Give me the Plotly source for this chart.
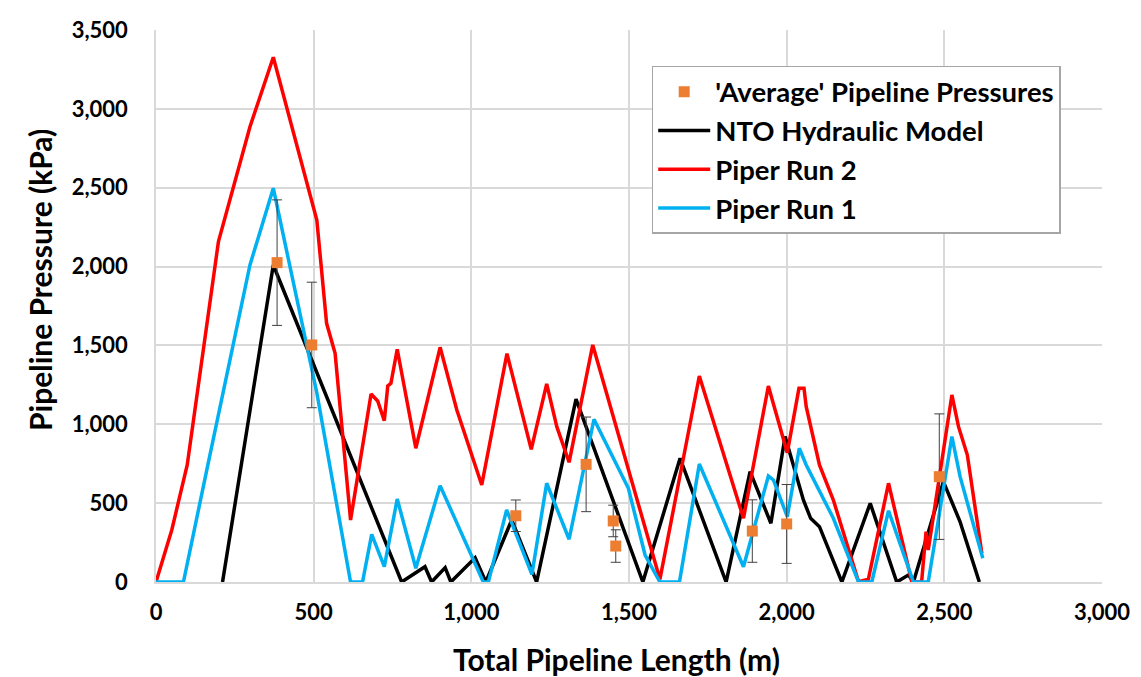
import plotly.graph_objects as go

# NTO Hydraulic Model
nto_x = [211, 372, 779, 853, 874, 917, 935, 1012, 1046, 1128, 1207, 1332, 1544, 1662, 1808,
         1884, 1950, 1995, 2053, 2076, 2104, 2175, 2265, 2349, 2386, 2402, 2497, 2550, 2611]
nto_y = [0, 2010, 0, 97, 0, 91, 0, 154, 0, 393, 0, 1159, 0, 784, 0,
         700, 372, 922, 520, 404, 351, 0, 499, 0, 44, 0, 636, 382, 0]

# Piper Run 2
run2_x = [0, 50, 99, 198, 298, 372, 510, 541, 568, 617, 682, 703, 724, 735, 745, 765, 824, 901,
          954, 1033, 1113, 1190, 1239, 1271, 1310, 1385, 1598, 1723, 1863, 1942, 1956, 2002,
          2039, 2055, 2062, 2104, 2148, 2228, 2259, 2323, 2397, 2428, 2442, 2449, 2524, 2545,
          2573, 2619]
run2_y = [0, 330, 742, 2158, 2887, 3327, 2295, 1640, 1450, 393, 1192, 1148, 1023, 1243, 1260,
          1476, 848, 1488, 1091, 615, 1448, 841, 1256, 985, 759, 1503, 17, 1306, 404, 1243,
          1143, 820, 1228, 1228, 1112, 742, 520, 2, 17, 626, 0, 2, 319, 203, 1186, 985, 805, 182]

# Piper Run 1
run1_x = [0, 87, 160, 298, 372, 510, 617, 655, 684, 702, 724, 765, 824, 901, 1038, 1054, 1112,
          1192, 1239, 1310, 1389, 1498, 1551, 1598, 1660, 1723, 1863, 1942, 1958, 2002, 2040,
          2062, 2106, 2148, 2228, 2270, 2323, 2402, 2449, 2524, 2550, 2622]
run1_y = [0, 0, 700, 2010, 2497, 1200, 0, 0, 302, 203, 97, 526, 87, 611, 0, 0, 457,
          48, 626, 271, 1032, 594, 171, 0, 0, 748, 97, 672, 647, 414, 848,
          742, 573, 404, 0, 0, 452, 0, 0, 922, 668, 150]

# 'Average' Pipeline Pressures with error bars
avg_x = [384, 494, 1141, 1364, 1450, 1458, 1891, 2000, 2484]
avg_y = [2025, 1503, 420, 746, 387, 228, 323, 368, 668]
avg_err = [398, 398, 100, 300, 100, 103, 198, 250, 398]

x_title = "Total Pipeline Length (m)"
y_title = "Pipeline Pressure (kPa)"

FONT = "Lato"

fig = go.Figure()
fig.add_trace(go.Scatter(x=nto_x, y=nto_y, mode="lines", name="NTO Hydraulic Model",
                         line=dict(color="#000000", width=3.5), legendrank=2))
fig.add_trace(go.Scatter(x=run2_x, y=run2_y, mode="lines", name="Piper Run 2",
                         line=dict(color="#FF0000", width=3.5), legendrank=3))
fig.add_trace(go.Scatter(x=run1_x, y=run1_y, mode="lines", name="Piper Run 1",
                         line=dict(color="#00B0F0", width=3.5), legendrank=4))
fig.add_trace(go.Scatter(x=avg_x, y=avg_y, mode="markers", name="'Average' Pipeline Pressures",
                         marker=dict(color="#ED7D31", symbol="square", size=11),
                         error_y=dict(type="data", array=avg_err, visible=True,
                                      color="#404040", thickness=1, width=5),
                         legendrank=1))

fig.update_layout(
    width=1141, height=677,
    margin=dict(l=156, r=39, t=30, b=95),
    paper_bgcolor="white", plot_bgcolor="white",
    font=dict(family=FONT, size=22, color="#000000"),
    showlegend=True,
    legend=dict(x=0.524, y=0.935, xanchor="left", yanchor="top",
                bgcolor="white", bordercolor="#A6A6A6", borderwidth=1.5,
                font=dict(family=FONT, size=27.5, color="#000000", weight="bold"),
                itemwidth=52),
    annotations=[
        dict(text=x_title, xref="paper", yref="paper",
             x=(616 - 156) / 946, y=-(659 - 582) / 552, xanchor="center", yanchor="middle",
             showarrow=False, font=dict(family=FONT, size=30, weight="bold", color="#000000")),
        dict(text=y_title, xref="paper", yref="paper", textangle=-90,
             x=-(156 - 40) / 946, y=(582 - 280) / 552, xanchor="center", yanchor="middle",
             showarrow=False, font=dict(family=FONT, size=30, weight="bold", color="#000000")),
    ],
)
fig.update_xaxes(range=[0, 3000], dtick=500, tickformat=",", automargin=False,
                 showgrid=True, gridcolor="#D9D9D9", gridwidth=1.5,
                 showline=True, linecolor="#D9D9D9", linewidth=1.5, mirror=False,
                 zeroline=False, ticks="", ticklabelstandoff=10,
                 tickfont=dict(family=FONT, size=22, weight="bold"))
fig.update_yaxes(range=[0, 3500], dtick=500, tickformat=",", automargin=False,
                 showgrid=True, gridcolor="#D9D9D9", gridwidth=1.5,
                 showline=True, linecolor="#D9D9D9", linewidth=1.5,
                 zeroline=False, ticks="", ticklabelstandoff=22,
                 tickfont=dict(family=FONT, size=22, weight="bold"))

fig.write_html("out.html", config={"displayModeBar": False},
               post_script="document.body.style.margin='0px';")
